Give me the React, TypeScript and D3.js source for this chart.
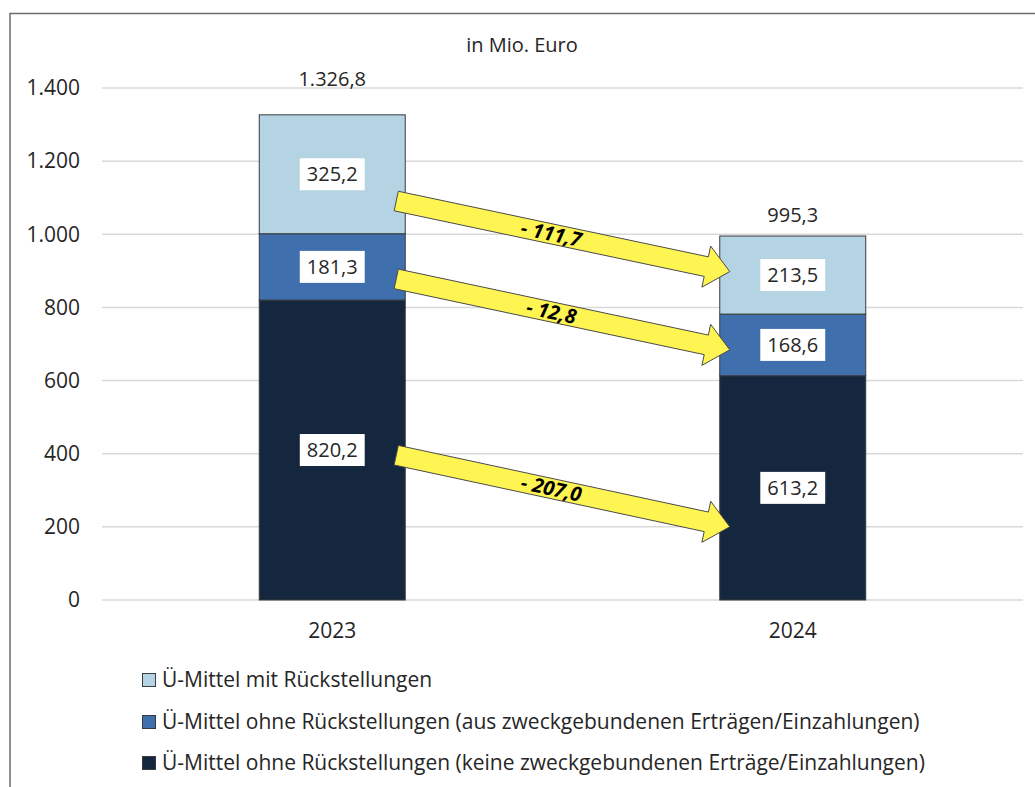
import React, { useEffect, useRef } from 'react';
import * as d3 from 'd3';

const years = ['2023', '2024'];
const seriesNames = [
  'Ü-Mittel ohne Rückstellungen (keine zweckgebundenen Erträge/Einzahlungen)',
  'Ü-Mittel ohne Rückstellungen (aus zweckgebundenen Erträgen/Einzahlungen)',
  'Ü-Mittel mit Rückstellungen',
];
const keineZweck = [820.2, 613.2];
const ausZweck = [181.3, 168.6];
const mitRueck = [325.2, 213.5];
const totals = [1326.8, 995.3];
const yTicks = [0, 200, 400, 600, 800, 1000, 1200, 1400];
// change arrows: start value at 2023 bar, end value at 2024 bar
const arrowFrom = [1091, 878, 396];
const arrowTo = [898, 684, 200];
const arrowLabels = ['- 111,7', '- 12,8', '- 207,0'];

const colors = ['#14273F', '#3F70AD', '#B4D4E4'];
const font = '"Open Sans", sans-serif';

export default function App() {
  const svgRef = useRef<SVGSVGElement>(null);

  useEffect(() => {
    document.body.style.margin = '0';
    document.body.style.overflow = 'hidden';
    if (!svgRef.current) return;
    const svg = d3.select(svgRef.current);
    svg.selectAll('*').remove();

    const de = d3.formatLocale({ decimal: ',', thousands: '.', grouping: [3], currency: ['', '€'] });
    const fmtTick = de.format(',.0f');
    const fmtVal = de.format(',.1f');

    const margin = { left: 102, right: 1023, top: 88, bottom: 600 };

    const x = d3.scaleBand<string>()
      .domain(years)
      .range([margin.left, margin.right])
      .paddingInner(0.683)
      .paddingOuter(0.3415);

    const y = d3.scaleLinear().domain([0, 1400]).range([margin.bottom, margin.top]);

    // frame
    svg.append('rect')
      .attr('x', 10).attr('y', 13.5)
      .attr('width', 1200).attr('height', 900)
      .attr('fill', 'white')
      .attr('stroke', '#6b6b6b')
      .attr('stroke-width', 1.5);

    // title
    svg.append('text')
      .attr('x', 522).attr('y', 45).attr('dy', '0.35em')
      .attr('text-anchor', 'middle')
      .attr('font-family', font).attr('font-size', 20).attr('fill', '#262626')
      .text('in Mio. Euro');

    // grid
    svg.append('g').selectAll('line')
      .data(yTicks)
      .join('line')
      .attr('x1', margin.left).attr('x2', margin.right)
      .attr('y1', d => y(d)).attr('y2', d => y(d))
      .attr('stroke', '#D9D9D9').attr('stroke-width', 1.5);

    svg.append('g').selectAll('text')
      .data(yTicks)
      .join('text')
      .attr('x', 80).attr('y', d => y(d)).attr('dy', '0.35em')
      .attr('text-anchor', 'end')
      .attr('font-family', font).attr('font-size', 21).attr('fill', '#262626')
      .text(d => fmtTick(d));

    // stacked bars
    const table = years.map((yr, i) => ({ year: yr, s0: keineZweck[i], s1: ausZweck[i], s2: mitRueck[i] }));
    const stack = d3.stack<any>().keys(['s0', 's1', 's2'])(table);

    const layers = svg.append('g').selectAll('g')
      .data(stack)
      .join('g')
      .attr('fill', (_, i) => colors[i]);

    layers.selectAll('rect')
      .data(d => d)
      .join('rect')
      .attr('x', d => x(d.data.year)!)
      .attr('width', x.bandwidth())
      .attr('y', d => y(d[1]))
      .attr('height', d => y(d[0]) - y(d[1]))
      .attr('stroke', '#3a3a3a')
      .attr('stroke-width', 1);

    // segment labels with white boxes
    stack.forEach(layer => {
      layer.forEach(d => {
        const cx = x(d.data.year)! + x.bandwidth() / 2;
        const cy = y((d[0] + d[1]) / 2);
        const g = svg.append('g');
        const box = g.append('rect').attr('fill', 'white');
        const t = g.append('text')
          .attr('x', cx).attr('y', cy).attr('dy', '0.35em')
          .attr('text-anchor', 'middle')
          .attr('font-family', font).attr('font-size', 20).attr('fill', '#262626')
          .text(fmtVal(d[1] - d[0]));
        const w = (t.node() as SVGTextElement).getComputedTextLength();
        box.attr('x', cx - w / 2 - 7).attr('y', cy - 16)
          .attr('width', w + 14).attr('height', 32);
      });
    });

    // totals
    svg.append('g').selectAll('text')
      .data(totals)
      .join('text')
      .attr('x', (_, i) => x(years[i])! + x.bandwidth() / 2)
      .attr('y', d => {
        const yy = y(d) - 21;
        const near = yTicks.find(t => Math.abs(y(t) - yy) < 10);
        return near !== undefined ? y(near) - 9 : yy;
      })
      .attr('dy', '0.35em')
      .attr('text-anchor', 'middle')
      .attr('font-family', font).attr('font-size', 20).attr('fill', '#262626')
      .text(d => fmtVal(d));

    // x labels
    svg.append('g').selectAll('text')
      .data(years)
      .join('text')
      .attr('x', d => x(d)! + x.bandwidth() / 2)
      .attr('y', 631).attr('dy', '0.35em')
      .attr('text-anchor', 'middle')
      .attr('font-family', font).attr('font-size', 21).attr('fill', '#262626')
      .text(d => d);

    // arrows
    const x0 = x(years[0])! + x.bandwidth() - 9;
    const x1 = x(years[1])! + 10;
    const shaftHalf = 10, headHalf = 21, headLen = 24;
    arrowFrom.forEach((fv, i) => {
      const ax = x0, ay = y(fv), bx = x1, by = y(arrowTo[i]);
      const len = Math.hypot(bx - ax, by - ay);
      const ux = (bx - ax) / len, uy = (by - ay) / len;
      const nx = -uy, ny = ux;
      const hx = bx - ux * headLen, hy = by - uy * headLen;
      const pts: [number, number][] = [
        [ax + nx * shaftHalf, ay + ny * shaftHalf],
        [hx + nx * shaftHalf, hy + ny * shaftHalf],
        [hx + nx * headHalf, hy + ny * headHalf],
        [bx, by],
        [hx - nx * headHalf, hy - ny * headHalf],
        [hx - nx * shaftHalf, hy - ny * shaftHalf],
        [ax - nx * shaftHalf, ay - ny * shaftHalf],
      ];
      svg.append('path')
        .attr('d', d3.line()(pts)! + 'Z')
        .attr('fill', '#FFF552')
        .attr('stroke', '#4a4a4a')
        .attr('stroke-width', 1)
        .attr('stroke-linejoin', 'miter');
      const mx = (ax + hx) / 2, my = (ay + hy) / 2;
      const ang = Math.atan2(by - ay, bx - ax) * 180 / Math.PI;
      svg.append('text')
        .attr('transform', `translate(${mx},${my}) rotate(${ang})`)
        .attr('dy', '0.35em')
        .attr('text-anchor', 'middle')
        .attr('font-family', font).attr('font-size', 20)
        .attr('font-weight', 'bold').attr('font-style', 'italic')
        .attr('fill', '#000')
        .text(arrowLabels[i]);
    });

    // legend (top to bottom: light, mid, dark)
    const legendOrder = [2, 1, 0];
    const legendY = [680, 722, 763];
    const lg = svg.append('g');
    legendOrder.forEach((si, row) => {
      lg.append('rect')
        .attr('x', 142.5).attr('y', legendY[row] - 6.5)
        .attr('width', 13).attr('height', 13)
        .attr('fill', colors[si]).attr('stroke', '#3a3a3a').attr('stroke-width', 1);
      lg.append('text')
        .attr('x', 162).attr('y', legendY[row]).attr('dy', '0.35em')
        .attr('font-family', font).attr('font-size', 21).attr('fill', '#262626')
        .text(seriesNames[si]);
    });
  }, []);

  return <svg ref={svgRef} width={1035} height={787} style={{ display: 'block' }} />;
}
